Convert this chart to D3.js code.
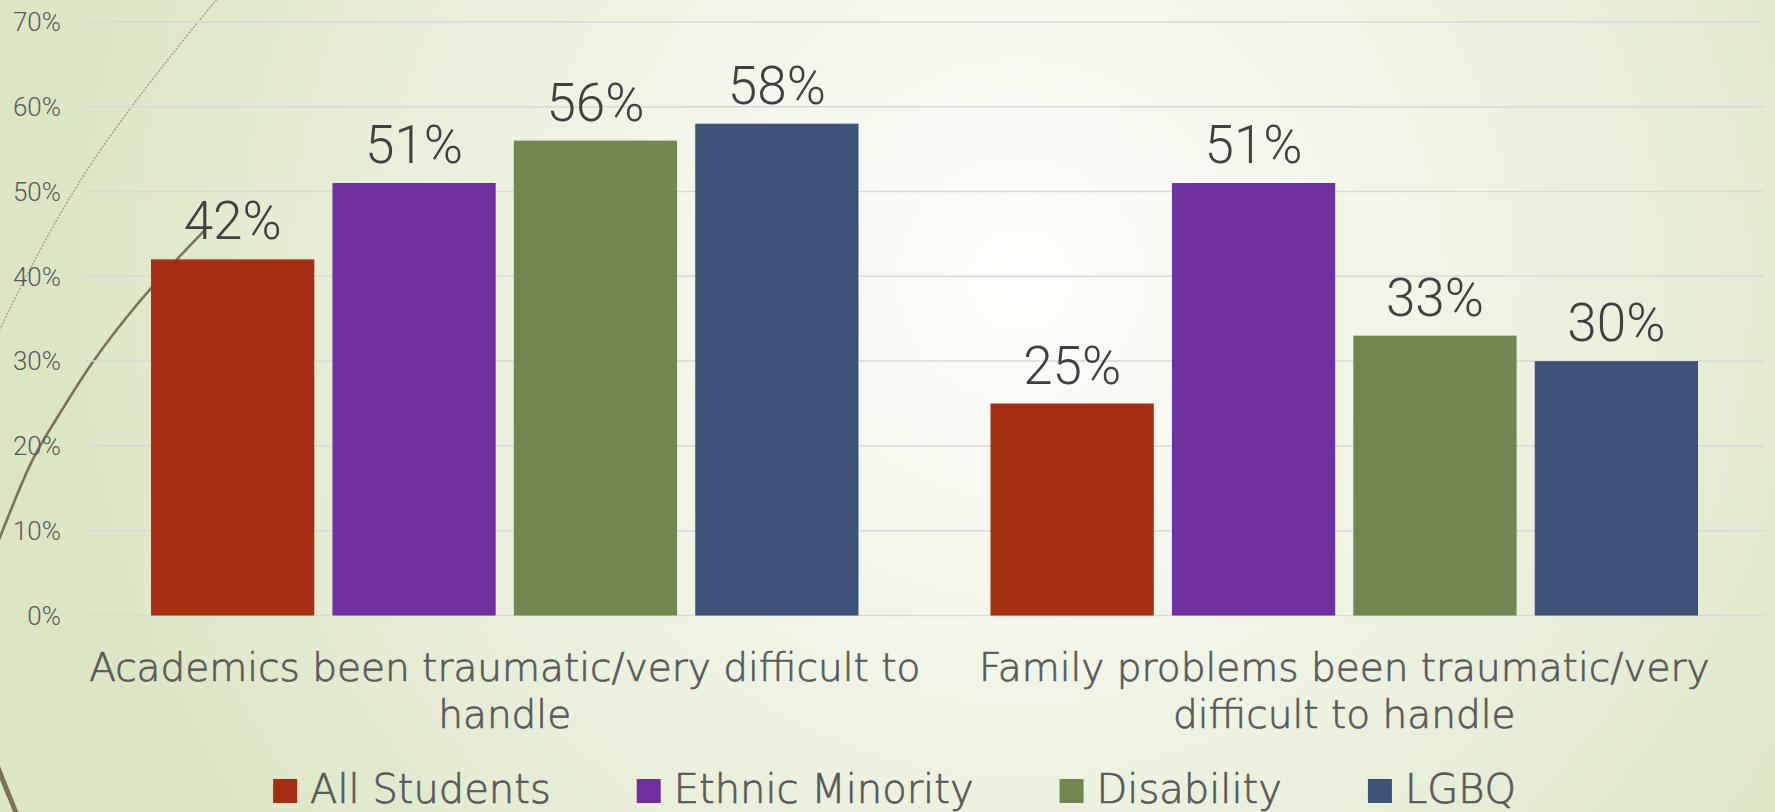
<!DOCTYPE html>
<html>
<head>
<meta charset="utf-8">
<script src="https://cdn.jsdelivr.net/npm/d3@7"></script>
<style>
  body { margin: 0; overflow: hidden; }
  svg { display: block; }
</style>
</head>
<body>
<script>
// chart data
var categories = ['Academics been traumatic/very difficult to handle',
                  'Family problems been traumatic/very difficult to handle'];
var categoryLines = [['Academics been traumatic/very difficult to', 'handle'],
                     ['Family problems been traumatic/very', 'difficult to handle']];
var seriesNames = ['All Students', 'Ethnic Minority', 'Disability', 'LGBQ'];
var allStudents = [42, 25];
var ethnicMinority = [51, 51];
var disability = [56, 33];
var lgbq = [58, 30];
var yTicks = [0, 10, 20, 30, 40, 50, 60, 70];

var colors = ['#a52f10', '#7030a0', '#71874f', '#3e5379'];
var series = [allStudents, ethnicMinority, disability, lgbq];

var width = 1775, height = 812;
var plotLeft = 85, plotRight = 1764, plotTop = 21.9, plotBottom = 615.5;

var svg = d3.select('body').append('svg')
    .attr('width', width)
    .attr('height', height);

// background
var defs = svg.append('defs');
var grad = defs.append('radialGradient')
    .attr('id', 'bg')
    .attr('gradientUnits', 'userSpaceOnUse')
    .attr('cx', 1020).attr('cy', 280).attr('r', 980);
grad.append('stop').attr('offset', 0).attr('stop-color', '#fdfdfb');
grad.append('stop').attr('offset', 0.45).attr('stop-color', '#f0f4e5');
grad.append('stop').attr('offset', 1).attr('stop-color', '#dce6c3');
svg.append('rect').attr('width', width).attr('height', height).attr('fill', 'url(#bg)');

// decorative curves on the left
var line = d3.line().curve(d3.curveBasis);
svg.append('path')
    .attr('d', line([[-5, 340], [15, 297], [70, 193], [130, 107], [197, 23], [218, -2]]))
    .attr('fill', 'none')
    .attr('stroke', '#a8a48e')
    .attr('stroke-width', 1.6)
    .attr('stroke-dasharray', '2,1.5');
svg.append('path')
    .attr('d', line([[-3, 545], [0, 537], [32, 457], [50, 430], [90, 363], [140, 300], [175, 261], [205, 230]]))
    .attr('fill', 'none')
    .attr('stroke', '#7b7358')
    .attr('stroke-width', 2.6);
svg.append('path')
    .attr('d', line([[-3, 765], [0, 773], [8, 793], [17, 815]]))
    .attr('fill', 'none')
    .attr('stroke', '#7b7358')
    .attr('stroke-width', 5);

// scales
var x0 = d3.scaleBand().domain(categories).range([plotLeft, plotRight]);
var x1 = d3.scaleBand().domain(seriesNames)
    .range([66, x0.bandwidth() - 66])
    .paddingInner(0.1);
var y = d3.scaleLinear().domain([0, 70]).range([plotBottom, plotTop]);

// grid
svg.append('g').selectAll('line')
  .data(yTicks)
  .enter().append('line')
    .attr('x1', plotLeft).attr('x2', plotRight)
    .attr('y1', function(d) { return y(d); })
    .attr('y2', function(d) { return y(d); })
    .attr('stroke', '#d9d9d9')
    .attr('stroke-width', 1.5);

// y axis labels
svg.append('g').selectAll('text')
  .data(yTicks)
  .enter().append('text')
    .attr('x', 61)
    .attr('y', function(d) { return y(d); })
    .attr('dy', '0.36em')
    .attr('text-anchor', 'end')
    .style('font-family', 'Roboto, sans-serif')
    .style('font-weight', 300)
    .style('font-size', '26px')
    .style('fill', '#595959')
    .text(function(d) { return d + '%'; });

// bars
var groups = svg.append('g').selectAll('g')
  .data(categories)
  .enter().append('g')
    .attr('transform', function(d) { return 'translate(' + x0(d) + ',0)'; });

groups.selectAll('rect')
  .data(function(d, i) { return seriesNames.map(function(s, j) { return { s: s, v: series[j][i], c: colors[j] }; }); })
  .enter().append('rect')
    .attr('x', function(d) { return x1(d.s); })
    .attr('y', function(d) { return y(d.v); })
    .attr('width', x1.bandwidth())
    .attr('height', function(d) { return y(0) - y(d.v); })
    .attr('fill', function(d) { return d.c; });

groups.selectAll('text')
  .data(function(d, i) { return seriesNames.map(function(s, j) { return { s: s, v: series[j][i] }; }); })
  .enter().append('text')
    .attr('x', function(d) { return x1(d.s) + x1.bandwidth() / 2; })
    .attr('y', function(d) { return y(d.v) - 20; })
    .attr('text-anchor', 'middle')
    .style('font-family', 'Roboto, sans-serif')
    .style('font-weight', 300)
    .style('font-size', '53px')
    .style('fill', '#404040')
    .text(function(d) { return d.v + '%'; });

// category labels
var catLabels = svg.append('g').selectAll('text')
  .data(categories)
  .enter().append('text')
    .attr('x', function(d) { return x0(d) + x0.bandwidth() / 2; })
    .attr('y', 681)
    .attr('text-anchor', 'middle')
    .style('font-family', '"DejaVu Sans", sans-serif')
    .style('font-weight', 300)
    .style('font-size', '39px')
    .style('fill', '#595959')
    .style('stroke', '#595959')
    .style('stroke-width', 0.7);

catLabels.selectAll('tspan')
  .data(function(d, i) { return categoryLines[i]; })
  .enter().append('tspan')
    .attr('x', function() { var c = this.parentNode.__data__; return x0(c) + x0.bandwidth() / 2; })
    .attr('dy', function(d, i) { return i ? 47 : 0; })
    .text(function(d) { return d; });

// legend
var legend = svg.append('g');
var pos = 0;
seriesNames.forEach(function(name, i) {
  var item = legend.append('g').attr('transform', 'translate(' + pos + ',0)');
  item.append('rect')
    .attr('x', 0).attr('y', 779)
    .attr('width', 24).attr('height', 24)
    .attr('fill', colors[i]);
  var t = item.append('text')
    .attr('x', 37).attr('y', 803)
    .style('font-family', '"DejaVu Sans", sans-serif')
    .style('font-weight', 300)
    .style('font-size', '40px')
    .style('fill', '#595959')
    .style('stroke', '#595959')
    .style('stroke-width', 0.7)
    .text(name);
  pos += 37 + t.node().getComputedTextLength() + 86;
});
var legendWidth = pos - 86;
legend.attr('transform', 'translate(' + (894.5 - legendWidth / 2) + ',0)');
</script>
</body>
</html>
